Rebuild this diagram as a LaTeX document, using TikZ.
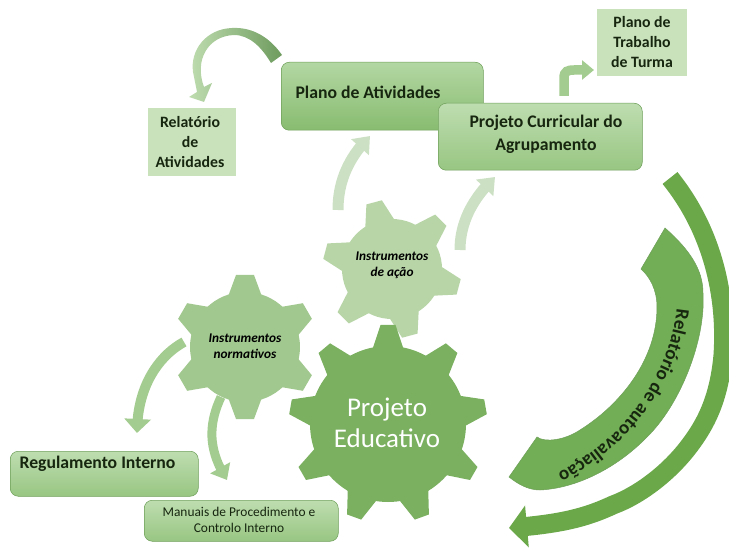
\documentclass[tikz,border=0pt]{standalone}
\usepackage{fontspec}
\setmainfont{Carlito}
\usetikzlibrary{arrows.meta,bending,decorations.text}
\definecolor{gearbig}{HTML}{7AB05F}
\definecolor{gearmid}{HTML}{A1C88F}
\definecolor{gearlight}{HTML}{B8D5A8}
\definecolor{paleflow}{HTML}{CCE0C3}
\definecolor{midflow}{HTML}{A3CC90}
\definecolor{ringgreen}{HTML}{6BA84A}
\definecolor{bannergreen}{HTML}{72AE55}
\definecolor{plaingreen}{HTML}{C9E2BC}
\definecolor{boxline}{HTML}{6E9F59}
\definecolor{inktext}{HTML}{16260F}
\definecolor{boxtop}{HTML}{BEDDB0}
\definecolor{boxbottom}{HTML}{98C682}
\definecolor{planotop}{HTML}{B3D7A3}
\definecolor{planobottom}{HTML}{88BC70}
\definecolor{taillight}{HTML}{BFDDB0}
\definecolor{taildark}{HTML}{6E9B5E}
% x y rotation bodyradius tipradius tipwidth basewidth count colour
\newcommand{\gearwheel}[9]{%
\fill[#9](#1,#2)circle(#4);
\pgfmathsetmacro{\gearstep}{360/#8}
\foreach \k in {1,...,#8}{
\fill[#9,shift={(#1,#2)},rotate=#3+\k*\gearstep]
(#4-6,-#7/2)--(#5,-#6/2)--(#5,#6/2)--(#4-6,#7/2)--cycle;
}}
\begin{document}
\begin{tikzpicture}[
x=1pt,y=-1pt,
roundbox/.style={draw=boxline,line width=0.5pt,rounded corners=8pt,anchor=north west,top color=boxtop,bottom color=boxbottom},
plainbox/.style={fill=plaingreen,anchor=north west},
boxlabel/.style={align=center,font=\fontsize{17.7}{23}\selectfont\bfseries,text=inktext},
smalllabel/.style={align=center,font=\fontsize{15.8}{20}\selectfont\bfseries,text=inktext},
gearlabel/.style={align=center,font=\fontsize{13.3}{16}\selectfont\bfseries\itshape,text=black},
paleblock/.style={paleflow,line width=11pt,-{Triangle[length=15pt,width=23pt,flex]}},
midblock/.style={midflow,line width=10pt,-{Triangle[length=14pt,width=26pt,flex]}},
]
\useasboundingbox(0,0)rectangle(729,548);

%gears
\gearwheel{392}{269}{105}{50}{69}{16}{32}{6}{gearlight}
\gearwheel{245}{347}{90}{55}{72}{18}{35}{6}{gearmid}
\gearwheel{388}{424}{90}{78}{99}{15}{33}{9}{gearbig}
\node[gearlabel](acao)at(392,265){Instrumentos\\de ação};
\node[gearlabel](normativos)at(245,346){Instrumentos\\normativos};
\node[align=center,text=white,font=\fontsize{27}{31}\selectfont](educativo)at(387,423){Projeto\\Educativo};

%boxes
\node[roundbox,top color=planotop,bottom color=planobottom,minimum width=202pt,minimum height=68pt](atividades)at(281,62){};
\node[boxlabel,anchor=west]at(292,92){Plano de Atividades};
\node[roundbox,minimum width=204pt,minimum height=67pt](curricular)at(438,103){};
\node[boxlabel](curriculartext)at(546,134){Projeto Curricular do\\Agrupamento};
\node[roundbox,minimum width=188pt,minimum height=45pt](regulamento)at(10,451){};
\node[boxlabel,anchor=west]at(16,464){Regulamento Interno};
\node[roundbox,minimum width=194pt,minimum height=41pt](manuais)at(144,500){};
\node[align=center,font=\fontsize{13.4}{16}\selectfont,text=inktext](manuaistext)at(239,520){Manuais de Procedimento e\\Controlo Interno};
\node[plainbox,minimum width=88pt,minimum height=68pt](relatorio)at(148,108){};
\node[smalllabel](relatoriotext)at(190,142){Relatório\\de\\Atividades};
\node[plainbox,minimum width=90pt,minimum height=67pt](turma)at(597,9){};
\node[smalllabel](turmatext)at(642,42){Plano de\\Trabalho\\de Turma};

%flow arrows
\coordinate(acaoa)at(338,210);
\coordinate(acaob)at(460,250);
\coordinate(norma)at(184,342);
\coordinate(normb)at(221,397);
\coordinate(curvea)at(564,96);
\draw[paleblock](acaoa)..controls(338,185)and(346,160)..(370,136);
\draw[paleblock](acaob)..controls(460,222)and(473,198)..(495,177);
\draw[midblock](norma)..controls(160,355)and(137,385)..(137,433);
\draw[midblock,line width=9pt,-{Triangle[length=14pt,width=22pt,flex]}](normb)..controls(208,425)and(208,450)..(227,480);
\draw[midflow,line width=9.5pt,-{Triangle[length=12pt,width=19pt]}](curvea)--(564,78)..controls(564,71)and(568,70)..(574,70)--(594,70);

%relatorio arrow
\shade[left color=taillight,right color=taildark]
(282,55)..controls(268,35)and(250,27)..(232,28)..controls(206,29)and(190,50)..(193,72)
--(197,92)--(189,97)--(204,102)--(212,83)--(204,87)
..controls(194,60)and(208,36)..(234,35)..controls(250,35)and(262,48)..(271,63)--cycle;

%autoavaliacao
\draw[ringgreen,line width=19pt,-{Triangle[length=18pt,width=41pt,flex]}](670,178)..controls(712,230)and(727,295)..(723,355)
..controls(719,400)and(705,425)..(690,445)..controls(670,472)and(640,495)..(613,505)..controls(585,518)and(560,524)..(509,528);
\draw[draw=boxline,fill=bannergreen,line width=0.5pt](665,228)..controls(690,250)and(703,270)..(703,293)
..controls(706,340)and(680,405)..(647,437)..controls(620,465)and(580,488)..(540,490)
..controls(528,490)and(518,484)..(509,477)--(537,437)..controls(545,443)and(565,440)..(580,430)
..controls(620,405)and(657,360)..(657,307)..controls(657,290)and(650,277)..(641,269)--cycle;
\path[decorate,decoration={text along path,raise=0pt,text align=center,
text={|\fontsize{19}{23}\selectfont\bfseries\color{inktext}|Relatório de autoavaliação}}]
(677,290)..controls(680,340)and(650,400)..(612,435)..controls(590,455)and(565,472)..(540,480);
\end{tikzpicture}
\end{document}
